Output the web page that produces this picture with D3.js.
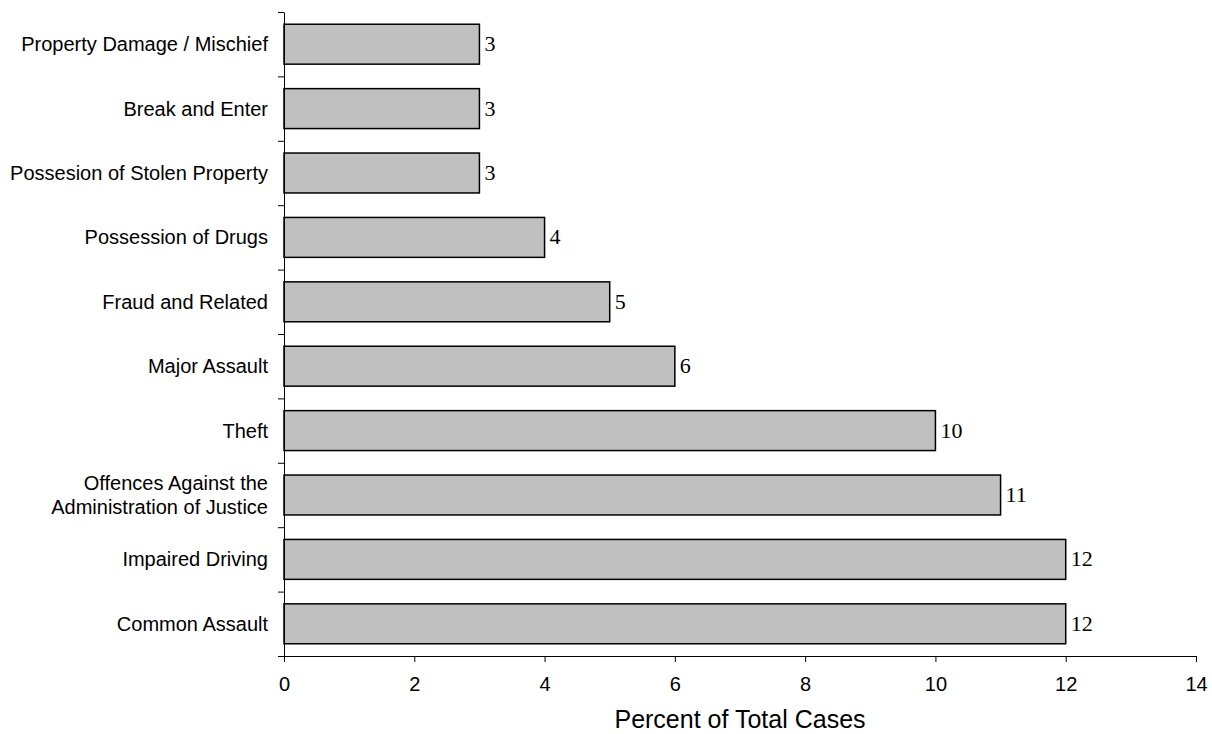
<!DOCTYPE html>
<html>
<head>
<meta charset="utf-8">
<script src="https://cdn.jsdelivr.net/npm/d3@7"></script>
<style>
  html, body { margin: 0; padding: 0; background: #fff; }
  svg { display: block; }
</style>
</head>
<body>
<svg id="chart" width="1212" height="734"></svg>
<script>
const categories = [
  "Property Damage / Mischief",
  "Break and Enter",
  "Possesion of Stolen Property",
  "Possession of Drugs",
  "Fraud and Related",
  "Major Assault",
  "Theft",
  "Offences Against the Administration of Justice",
  "Impaired Driving",
  "Common Assault"
];
const categoryLines = [
  ["Property Damage / Mischief"],
  ["Break and Enter"],
  ["Possesion of Stolen Property"],
  ["Possession of Drugs"],
  ["Fraud and Related"],
  ["Major Assault"],
  ["Theft"],
  ["Offences Against the", "Administration of Justice"],
  ["Impaired Driving"],
  ["Common Assault"]
];
const values = [3, 3, 3, 4, 5, 6, 10, 11, 12, 12];
const xTicks = [0, 2, 4, 6, 8, 10, 12, 14];
const xTitle = "Percent of Total Cases";

(function () {
const svg = d3.select("#chart");
const pLeft = 284, pRight = 1196, pTop = 12, pBottom = 656;
const sans = "'Liberation Sans', Arial, sans-serif";
const serif = "'Liberation Serif', 'Times New Roman', serif";

const x = d3.scaleLinear().domain([0, 14]).range([pLeft, pRight]);
const y = d3.scaleBand().domain(categories).range([pTop, pBottom])
  .paddingInner(0.38).paddingOuter(0.19);
const yEdges = d3.scaleLinear().domain([0, categories.length]).range([pBottom, pTop]);

// bars
svg.append("g").selectAll("rect").data(categories).join("rect")
  .attr("x", x(0))
  .attr("y", d => y(d))
  .attr("width", (d, i) => x(values[i]) - x(0))
  .attr("height", y.bandwidth())
  .attr("fill", "#c0c0c0")
  .attr("stroke", "#000")
  .attr("stroke-width", 1.5);

// value labels
svg.append("g").selectAll("text").data(categories).join("text")
  .attr("x", (d, i) => x(values[i]) + 5)
  .attr("y", d => y(d) + y.bandwidth() / 2 + 7)
  .attr("font-family", serif)
  .attr("font-size", 22)
  .attr("fill", "#000")
  .text((d, i) => values[i]);

// y axis (ticks at band edges)
const yAxis = svg.append("g").attr("transform", `translate(${pLeft},0)`)
  .call(d3.axisLeft(yEdges).tickValues(d3.range(categories.length + 1))
    .tickSize(6).tickSizeOuter(0).tickFormat(""));
yAxis.select(".domain").attr("stroke", "#000").attr("stroke-width", 1);
yAxis.selectAll(".tick line").attr("stroke", "#000").attr("stroke-width", 1);

// category labels
const catG = svg.append("g");
categories.forEach((c, i) => {
  const lines = categoryLines[i];
  const cy = y(c) + y.bandwidth() / 2;
  const lh = 24;
  const t = catG.append("text")
    .attr("text-anchor", "end")
    .attr("font-family", sans)
    .attr("font-size", 20)
    .attr("fill", "#000");
  lines.forEach((ln, k) => {
    t.append("tspan")
      .attr("x", pLeft - 16)
      .attr("y", cy + 7 + (k - (lines.length - 1) / 2) * lh)
      .text(ln);
  });
});

// x axis
const xAxis = svg.append("g").attr("transform", `translate(0,${pBottom})`)
  .call(d3.axisBottom(x).tickValues(xTicks).tickSize(6).tickSizeOuter(0).tickPadding(15));
xAxis.select(".domain").attr("stroke", "#000").attr("stroke-width", 1);
xAxis.selectAll(".tick line").attr("stroke", "#000").attr("stroke-width", 1);
xAxis.selectAll(".tick text").attr("font-family", sans).attr("font-size", 20).attr("fill", "#000");

// x title
svg.append("text")
  .attr("x", (pLeft + pRight) / 2)
  .attr("y", 728)
  .attr("text-anchor", "middle")
  .attr("font-family", sans)
  .attr("font-size", 25)
  .attr("fill", "#000")
  .text(xTitle);
})();
</script>
</body>
</html>
